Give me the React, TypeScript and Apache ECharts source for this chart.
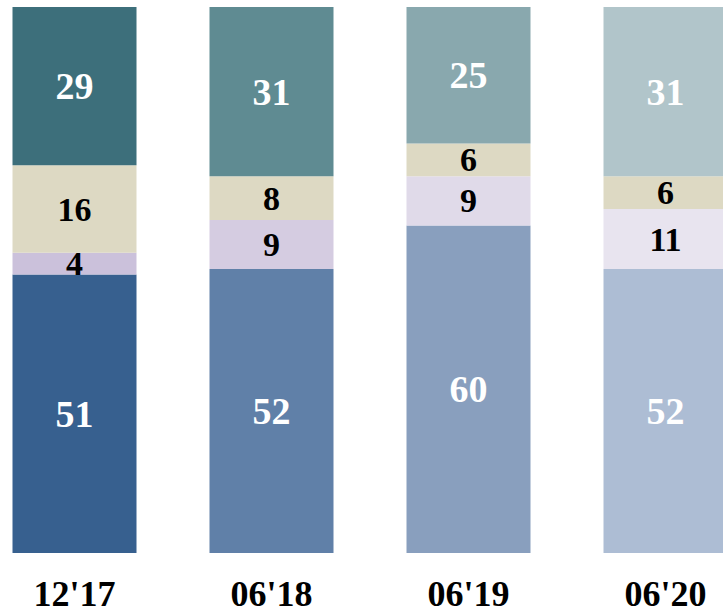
import React, { useEffect, useRef } from "react";
import * as echarts from "echarts";

const categories = ["12'17", "06'18", "06'19", "06'20"];
const seriesA = [51, 52, 60, 52];
const seriesB = [4, 9, 9, 11];
const seriesC = [16, 8, 6, 6];
const seriesD = [29, 31, 25, 31];

const colorsA = ["#37608f", "#6080a8", "#899fbe", "#adbdd4"];
const colorsB = ["#cbc1db", "#d5cce1", "#e0dae9", "#e8e4ef"];
const colorsC = ["#ddd9c3", "#ddd9c3", "#ddd9c3", "#ddd9c3"];
const colorsD = ["#3d6f7b", "#5f8b92", "#89a8ae", "#b1c5ca"];

const FONT = "'Liberation Serif', 'Times New Roman', serif";

function mk(name: string, values: number[], colors: string[], labelColor: string, size: number) {
  return {
    name,
    type: "bar",
    stack: "total",
    barWidth: 124,
    data: values.map((v, i) => ({ value: v, itemStyle: { color: colors[i] } })),
    label: {
      show: true,
      position: "inside",
      color: labelColor,
      fontFamily: FONT,
      fontWeight: "bold",
      fontSize: size,
    },
  };
}

export default function App() {
  const ref = useRef<HTMLDivElement>(null);
  useEffect(() => {
    document.body.style.margin = "0";
    const chart = echarts.init(ref.current!, null, { renderer: "svg" });
    chart.setOption({
      animation: false,
      grid: { left: 0, top: 7, width: 788, height: 546 },
      xAxis: {
        type: "category",
        data: categories,
        axisLine: { show: false },
        axisTick: { show: false },
        axisLabel: {
          color: "#000",
          fontFamily: FONT,
          fontWeight: "bold",
          fontSize: 36,
          lineHeight: 36,
          margin: 23,
        },
      },
      yAxis: {
        type: "value",
        min: 0,
        max: 100,
        show: false,
        splitLine: { show: false },
      },
      series: [
        mk("A", seriesA, colorsA, "#fff", 38),
        mk("B", seriesB, colorsB, "#000", 34),
        mk("C", seriesC, colorsC, "#000", 34),
        mk("D", seriesD, colorsD, "#fff", 38),
      ],
    });
    return () => chart.dispose();
  }, []);
  return (
    <div style={{ position: "relative", width: 723, height: 614, overflow: "hidden" }}>
      <div ref={ref} style={{ position: "absolute", left: -24.5, top: 0, width: 788, height: 614 }} />
    </div>
  );
}
